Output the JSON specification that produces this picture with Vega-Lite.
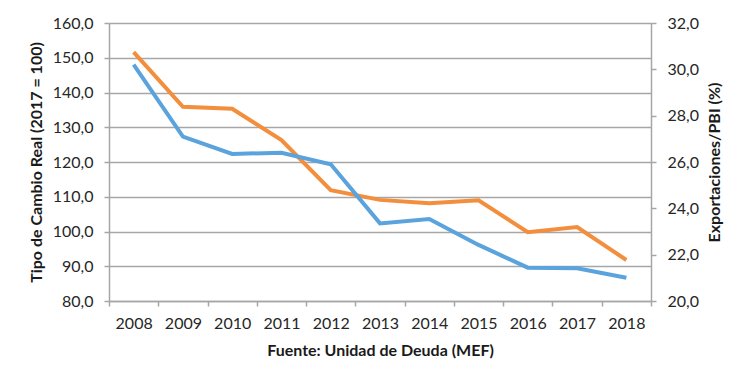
{
  "$schema": "https://vega.github.io/schema/vega-lite/v6.json",
  "width": 542,
  "height": 278,
  "autosize": {"type": "none"},
  "padding": {"left": 109, "top": 23, "right": 99, "bottom": 74},
  "background": "white",
  "config": {
    "locale": {"number": {"decimal": ",", "thousands": ".", "grouping": [3], "currency": ["", " €"]}},
    "view": {"stroke": null},
    "font": "Lato",
    "axis": {
      "labelFont": "Lato",
      "titleFont": "Lato",
      "labelFontSize": 16,
      "labelColor": "#262626",
      "titleColor": "#1a1a1a",
      "titleFontSize": 16,
      "titleFontWeight": "bold",
      "domainColor": "#a6a6a6",
      "tickColor": "#a6a6a6",
      "gridColor": "#a6a6a6",
      "gridWidth": 1.5,
      "domainWidth": 1.5,
      "tickWidth": 1.5,
      "tickSize": 5
    }
  },
  "data": {
    "values": [
      {"year": "2008", "tcr": 151.6, "exp": 30.2},
      {"year": "2009", "tcr": 135.9, "exp": 27.1},
      {"year": "2010", "tcr": 135.3, "exp": 26.35},
      {"year": "2011", "tcr": 126.3, "exp": 26.4},
      {"year": "2012", "tcr": 111.9, "exp": 25.9},
      {"year": "2013", "tcr": 109.1, "exp": 23.35},
      {"year": "2014", "tcr": 108.1, "exp": 23.54},
      {"year": "2015", "tcr": 109.0, "exp": 22.42},
      {"year": "2016", "tcr": 99.8, "exp": 21.44},
      {"year": "2017", "tcr": 101.3, "exp": 21.41},
      {"year": "2018", "tcr": 91.8, "exp": 21.0}
    ]
  },
  "encoding": {
    "x": {
      "field": "year",
      "type": "ordinal",
      "scale": {"type": "band", "paddingInner": 0, "paddingOuter": 0},
      "axis": {
        "title": "Fuente: Unidad de Deuda (MEF)",
        "labelAngle": 0,
        "tickBand": "extent",
        "labelPadding": 9,
        "titlePadding": 11
      }
    }
  },
  "layer": [
    {
      "mark": {"type": "line", "color": "#F28E3C", "strokeWidth": 4},
      "encoding": {
        "y": {
          "field": "tcr",
          "type": "quantitative",
          "scale": {"domain": [80, 160], "zero": false, "nice": false},
          "axis": {
            "title": "Tipo de Cambio Real (2017 = 100)",
            "values": [80, 90, 100, 110, 120, 130, 140, 150, 160],
            "format": ".1f",
            "grid": true,
            "labelPadding": 11,
            "titlePadding": 8
          }
        }
      }
    },
    {
      "mark": {"type": "line", "color": "#5BA3DC", "strokeWidth": 4},
      "encoding": {
        "y": {
          "field": "exp",
          "type": "quantitative",
          "scale": {"domain": [20, 32], "zero": false, "nice": false},
          "axis": {
            "orient": "right",
            "title": "Exportaciones/PBI (%)",
            "titleAngle": 270,
            "titleBaseline": "top",
            "values": [20, 22, 24, 26, 28, 30, 32],
            "format": ".1f",
            "grid": false,
            "labelPadding": 11,
            "titlePadding": 8
          }
        }
      }
    }
  ],
  "resolve": {"scale": {"y": "independent"}}
}
